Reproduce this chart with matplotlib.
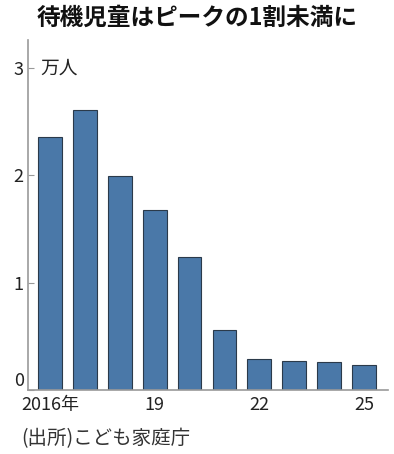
import matplotlib
matplotlib.use("Agg")
import matplotlib.pyplot as plt

plt.rcParams['font.family'] = ['Noto Sans CJK JP', 'DejaVu Sans']

years = [2016, 2017, 2018, 2019, 2020, 2021, 2022, 2023, 2024, 2025]
children = [2.36, 2.61, 1.99, 1.68, 1.24, 0.56, 0.29, 0.27, 0.26, 0.23]  # 万人
tick_years = [2016, 2019, 2022, 2025]
tick_labels = ['2016年', '19', '22', '25']

fig = plt.figure(figsize=(3.94, 4.54), dpi=100)
ax = fig.add_axes([0.071, 0.141, 0.914, 0.771])

ax.bar(years, children, width=0.68, color='#4a78a8', edgecolor='#2b3a4a', linewidth=0.8)

ax.set_xlim(years[0] - 0.63, years[-1] + 0.69)
ax.set_ylim(0, 3.26)
ax.set_yticks([0, 1, 2, 3])
ax.set_xticks(tick_years)
ax.set_xticklabels(tick_labels)

for s in ['top', 'right']:
    ax.spines[s].set_visible(False)
for s in ['left', 'bottom']:
    ax.spines[s].set_color('#999999')
    ax.spines[s].set_linewidth(1.2)

ax.tick_params(axis='y', direction='in', length=4, color='#999999', pad=3,
               labelsize=13, labelcolor='#222222')
ax.tick_params(axis='x', length=0, pad=4, labelsize=13, labelcolor='#222222')
# the zero label sits just above the baseline
ax.get_yticklabels()[0].set_va('bottom')

ax.text(0.035, 3.0, '万人', transform=ax.get_yaxis_transform(), fontsize=13.5,
        va='center', ha='left', color='#222222')

fig.text(0.5, 0.96, '待機児童はピークの1割未満に', ha='center', va='center',
         fontsize=17, fontweight='bold', color='#111111')
fig.text(0.055, 0.033, '(出所)こども家庭庁', ha='left', va='center', fontsize=14,
         color='#333333')

fig.savefig('out.png', dpi=100)
